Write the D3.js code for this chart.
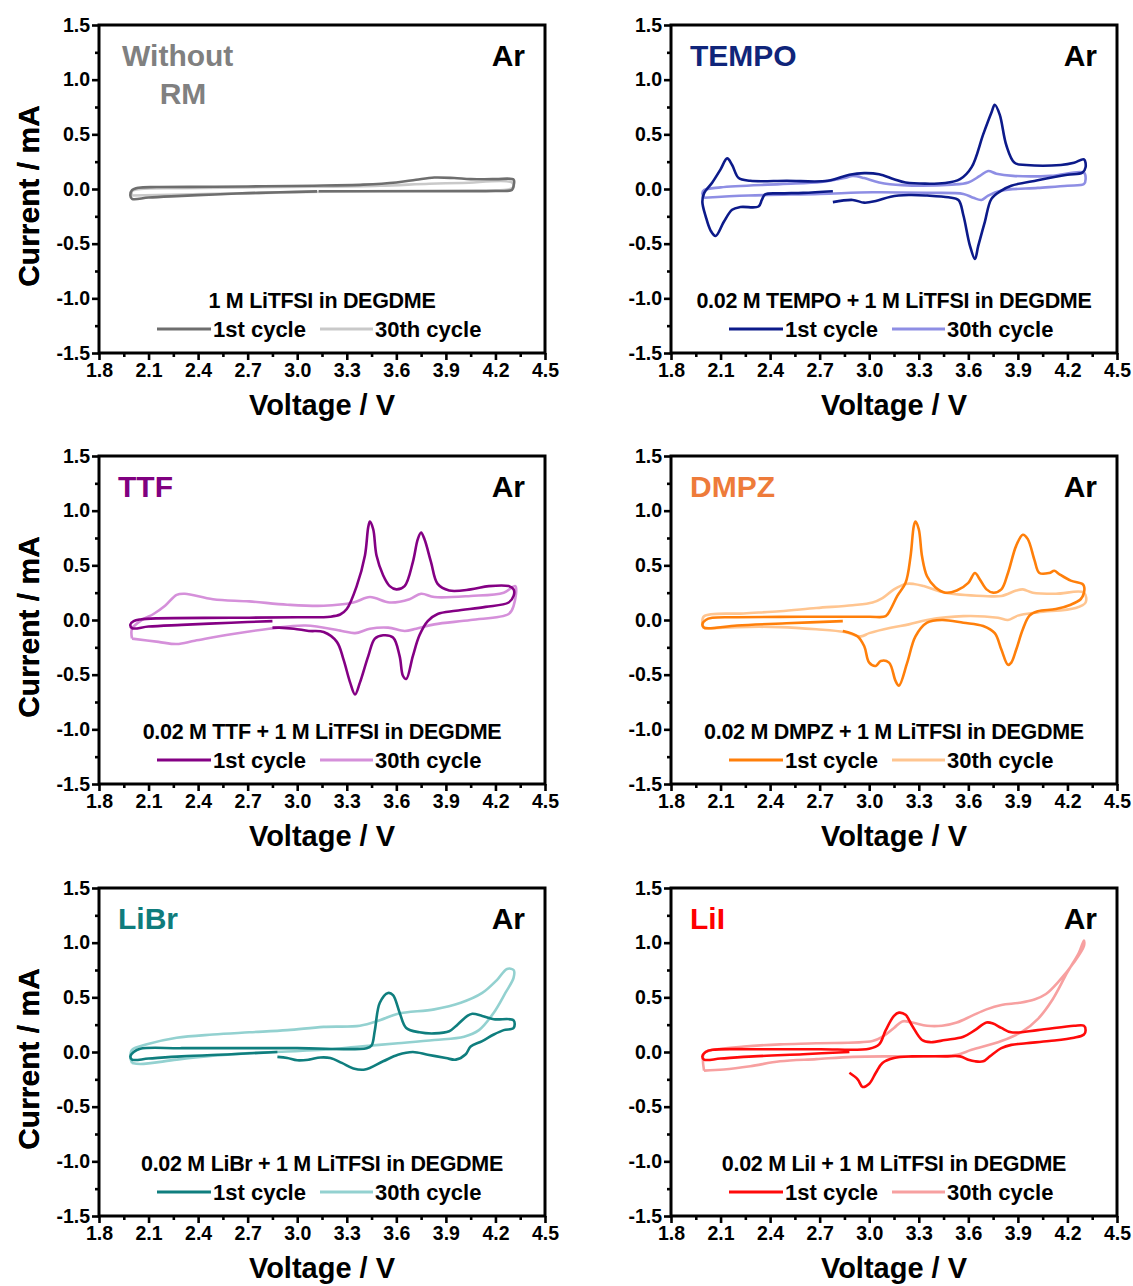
<!DOCTYPE html>
<html>
<head>
<meta charset="utf-8">
<script src="https://cdn.jsdelivr.net/npm/d3@7"></script>
<style>
  html, body { margin: 0; padding: 0; background: #ffffff; }
  svg { display: block; font-family: Arial, "Liberation Sans", sans-serif; }
</style>
</head>
<body>
<svg id="chart" width="1133" height="1286"></svg>
<script>
// ---------- tick labels ----------
const xTicks = [1.8, 2.1, 2.4, 2.7, 3.0, 3.3, 3.6, 3.9, 4.2, 4.5];
const yTicks = [-1.5, -1.0, -0.5, 0.0, 0.5, 1.0, 1.5];
const xMinorTicks = [1.95, 2.25, 2.55, 2.85, 3.15, 3.45, 3.75, 4.05, 4.35];
const yMinorTicks = [-1.25, -0.75, -0.25, 0.25, 0.75, 1.25];
const legendLabels = ["1st cycle", "30th cycle"];

// ---------- panel texts ----------
const panelNames = ["Without RM", "TEMPO", "TTF", "DMPZ", "LiBr", "LiI"];
const panelNotes = [
  "1 M LiTFSI in DEGDME",
  "0.02 M TEMPO + 1 M LiTFSI in DEGDME",
  "0.02 M TTF + 1 M LiTFSI in DEGDME",
  "0.02 M DMPZ + 1 M LiTFSI in DEGDME",
  "0.02 M LiBr + 1 M LiTFSI in DEGDME",
  "0.02 M LiI + 1 M LiTFSI in DEGDME"
];

// ---------- series: [voltage V, current mA] in scan order ----------
const withoutRM_1st = [[3.12,-0.022],[2.9,-0.03],[2.7,-0.038],[2.5,-0.05],[2.27,-0.065],[2.1,-0.078],[2.0,-0.09],[1.99,-0.06],[2.0,-0.01],[2.04,0.012],[2.15,0.018],[2.5,0.02],[2.8,0.025],[3.1,0.03],[3.4,0.04],[3.6,0.06],[3.72,0.085],[3.83,0.105],[3.95,0.1],[4.05,0.09],[4.2,0.09],[4.31,0.085],[4.31,0.03],[4.3,-0.008],[4.2,-0.018],[3.9,-0.02],[3.5,-0.02],[3.13,-0.02]];
const withoutRM_30th = [[2.0,-0.06],[2.0,-0.02],[2.05,0.0],[2.3,0.008],[2.7,0.015],[3.1,0.02],[3.5,0.03],[3.8,0.048],[4.0,0.055],[4.3,0.06],[4.31,0.02],[4.28,-0.005],[4.1,-0.012],[3.5,-0.018],[3.0,-0.03],[2.5,-0.045],[2.0,-0.06]];

const tempo_1st = [[2.78,-0.02],[2.6,-0.035],[2.46,-0.04],[2.37,-0.05],[2.35,-0.1],[2.33,-0.16],[2.22,-0.165],[2.17,-0.19],[2.12,-0.3],[2.07,-0.43],[2.04,-0.38],[2.01,-0.25],[1.99,-0.12],[2.0,-0.04],[2.05,0.06],[2.1,0.18],[2.14,0.28],[2.17,0.22],[2.21,0.1],[2.28,0.075],[2.5,0.075],[2.75,0.075],[2.88,0.13],[2.97,0.145],[3.06,0.135],[3.15,0.09],[3.22,0.06],[3.46,0.055],[3.55,0.09],[3.62,0.2],[3.69,0.5],[3.74,0.7],[3.76,0.77],[3.79,0.68],[3.83,0.4],[3.88,0.24],[3.95,0.22],[4.16,0.22],[4.24,0.24],[4.3,0.27],[4.31,0.2],[4.29,0.15],[4.2,0.13],[4.02,0.08],[3.86,0.03],[3.8,-0.015],[3.74,-0.09],[3.7,-0.3],[3.66,-0.52],[3.64,-0.64],[3.61,-0.52],[3.57,-0.24],[3.54,-0.1],[3.48,-0.076],[3.35,-0.06],[3.24,-0.055],[3.13,-0.07],[3.04,-0.11],[2.97,-0.125],[2.9,-0.1],[2.78,-0.12]];
const tempo_30th = [[2.0,-0.08],[1.99,-0.04],[2.0,-0.01],[2.1,0.015],[2.46,0.045],[2.71,0.065],[2.85,0.1],[2.9,0.12],[2.97,0.1],[3.06,0.06],[3.2,0.035],[3.5,0.04],[3.6,0.06],[3.67,0.12],[3.72,0.165],[3.77,0.14],[3.87,0.12],[4.1,0.12],[4.3,0.15],[4.31,0.09],[4.3,0.045],[4.2,0.03],[4.02,0.01],[3.8,-0.015],[3.72,-0.06],[3.68,-0.1],[3.63,-0.08],[3.57,-0.045],[3.35,-0.035],[3.02,-0.03],[2.7,-0.045],[2.27,-0.06],[2.0,-0.08]];

const ttf_1st = [[2.85,-0.01],[2.6,-0.025],[2.3,-0.045],[2.1,-0.06],[2.0,-0.075],[1.99,-0.04],[2.01,-0.01],[2.05,0.005],[2.15,0.015],[2.6,0.02],[3.0,0.025],[3.2,0.03],[3.26,0.05],[3.3,0.1],[3.36,0.31],[3.41,0.59],[3.43,0.85],[3.44,0.9],[3.46,0.83],[3.48,0.59],[3.52,0.41],[3.56,0.31],[3.6,0.28],[3.65,0.31],[3.7,0.53],[3.73,0.74],[3.75,0.8],[3.77,0.74],[3.81,0.53],[3.85,0.33],[3.92,0.27],[4.05,0.28],[4.16,0.31],[4.28,0.31],[4.31,0.28],[4.31,0.22],[4.28,0.16],[4.14,0.12],[3.96,0.085],[3.85,0.055],[3.79,-0.01],[3.74,-0.14],[3.7,-0.33],[3.66,-0.54],[3.64,-0.51],[3.62,-0.33],[3.58,-0.16],[3.52,-0.14],[3.47,-0.17],[3.43,-0.33],[3.38,-0.57],[3.35,-0.68],[3.32,-0.57],[3.28,-0.36],[3.24,-0.2],[3.16,-0.11],[3.07,-0.1],[2.98,-0.08],[2.89,-0.07],[2.85,-0.07]];
const ttf_30th = [[2.0,-0.17],[2.16,-0.2],[2.27,-0.22],[2.38,-0.19],[2.6,-0.13],[2.83,-0.08],[3.05,-0.05],[3.27,-0.1],[3.35,-0.12],[3.44,-0.08],[3.55,-0.07],[3.65,-0.1],[3.72,-0.08],[3.83,-0.04],[4.05,0.0],[4.28,0.055],[4.31,0.13],[4.32,0.31],[4.25,0.25],[4.05,0.22],[3.83,0.21],[3.75,0.24],[3.68,0.19],[3.56,0.16],[3.44,0.21],[3.34,0.16],[3.16,0.13],[2.94,0.14],[2.71,0.17],[2.49,0.19],[2.32,0.24],[2.27,0.23],[2.2,0.13],[2.13,0.055],[2.06,0.0],[2.0,-0.08],[2.0,-0.17]];

const dmpz_1st = [[2.84,-0.01],[2.5,-0.03],[2.2,-0.05],[2.0,-0.07],[1.99,-0.04],[2.01,0.0],[2.05,0.02],[2.2,0.025],[2.6,0.03],[3.0,0.03],[3.1,0.035],[3.13,0.1],[3.17,0.22],[3.22,0.34],[3.25,0.58],[3.27,0.86],[3.28,0.9],[3.3,0.83],[3.32,0.58],[3.35,0.4],[3.4,0.3],[3.46,0.25],[3.53,0.27],[3.6,0.34],[3.64,0.43],[3.67,0.37],[3.71,0.28],[3.75,0.25],[3.8,0.28],[3.84,0.43],[3.89,0.68],[3.93,0.78],[3.96,0.74],[4.0,0.55],[4.03,0.43],[4.09,0.43],[4.12,0.45],[4.15,0.42],[4.22,0.36],[4.29,0.33],[4.3,0.31],[4.3,0.25],[4.28,0.19],[4.22,0.14],[4.13,0.1],[4.02,0.08],[3.97,0.04],[3.93,-0.085],[3.89,-0.27],[3.86,-0.39],[3.84,-0.41],[3.8,-0.27],[3.76,-0.12],[3.69,-0.055],[3.57,-0.025],[3.44,0.0],[3.35,-0.025],[3.28,-0.15],[3.23,-0.39],[3.18,-0.6],[3.16,-0.56],[3.12,-0.39],[3.07,-0.375],[3.04,-0.42],[3.0,-0.39],[2.97,-0.24],[2.93,-0.15],[2.84,-0.1]];
const dmpz_30th = [[2.0,-0.08],[1.99,-0.03],[2.0,0.035],[2.24,0.06],[2.46,0.08],[2.68,0.11],[2.9,0.135],[3.02,0.16],[3.08,0.2],[3.15,0.28],[3.22,0.33],[3.27,0.33],[3.33,0.31],[3.46,0.25],[3.69,0.22],[3.8,0.22],[3.89,0.27],[3.93,0.28],[3.99,0.25],[4.13,0.24],[4.3,0.25],[4.31,0.16],[4.25,0.11],[4.02,0.07],[3.9,0.04],[3.84,0.0],[3.78,0.02],[3.57,0.035],[3.35,0.0],[3.24,-0.04],[3.13,-0.07],[3.0,-0.12],[2.95,-0.15],[2.85,-0.11],[2.68,-0.085],[2.46,-0.065],[2.2,-0.065],[2.0,-0.08]];

const libr_1st = [[2.88,0.0],[2.6,-0.02],[2.3,-0.04],[2.1,-0.06],[2.0,-0.07],[1.99,-0.04],[2.01,0.0],[2.05,0.03],[2.3,0.035],[3.0,0.035],[3.42,0.035],[3.45,0.06],[3.47,0.2],[3.5,0.45],[3.55,0.54],[3.58,0.52],[3.62,0.36],[3.66,0.22],[3.74,0.18],[3.83,0.17],[3.92,0.19],[3.97,0.25],[4.03,0.33],[4.06,0.35],[4.12,0.33],[4.19,0.3],[4.31,0.29],[4.31,0.22],[4.25,0.2],[4.19,0.16],[4.12,0.1],[4.05,0.05],[4.02,-0.02],[3.96,-0.07],[3.9,-0.055],[3.79,-0.025],[3.7,0.0],[3.61,-0.025],[3.52,-0.085],[3.41,-0.16],[3.34,-0.15],[3.27,-0.1],[3.2,-0.055],[3.14,-0.05],[3.07,-0.07],[3.0,-0.076],[2.94,-0.055],[2.88,-0.045]];
const libr_30th = [[2.0,-0.1],[1.99,-0.05],[2.0,0.02],[2.09,0.07],[2.27,0.13],[2.49,0.16],[2.71,0.18],[2.94,0.2],[3.16,0.23],[3.38,0.24],[3.5,0.29],[3.61,0.35],[3.83,0.39],[3.99,0.45],[4.12,0.54],[4.21,0.66],[4.27,0.76],[4.31,0.75],[4.31,0.68],[4.26,0.54],[4.19,0.36],[4.1,0.2],[4.01,0.14],[3.83,0.11],[3.61,0.08],[3.38,0.05],[3.16,0.02],[2.94,0.005],[2.71,-0.01],[2.49,-0.035],[2.27,-0.07],[2.05,-0.11],[2.0,-0.1]];

const lii_1st = [[2.88,0.0],[2.6,-0.02],[2.3,-0.04],[2.1,-0.06],[2.0,-0.07],[1.99,-0.04],[2.01,0.0],[2.05,0.02],[2.3,0.025],[2.7,0.025],[3.0,0.03],[3.06,0.07],[3.1,0.2],[3.15,0.33],[3.18,0.36],[3.22,0.34],[3.26,0.24],[3.32,0.11],[3.37,0.09],[3.46,0.11],[3.57,0.14],[3.64,0.2],[3.71,0.27],[3.75,0.26],[3.8,0.22],[3.86,0.18],[4.02,0.2],[4.24,0.24],[4.3,0.24],[4.31,0.2],[4.3,0.16],[4.24,0.13],[4.09,0.1],[3.95,0.08],[3.86,0.065],[3.8,0.035],[3.73,-0.04],[3.69,-0.085],[3.64,-0.085],[3.6,-0.07],[3.55,-0.04],[3.46,-0.04],[3.26,-0.04],[3.15,-0.055],[3.08,-0.1],[3.04,-0.19],[3.0,-0.29],[2.96,-0.32],[2.93,-0.25],[2.88,-0.19]];
const lii_30th = [[2.0,-0.17],[2.12,-0.16],[2.28,-0.13],[2.46,-0.085],[2.68,-0.065],[2.9,-0.045],[3.13,-0.04],[3.35,-0.04],[3.53,-0.025],[3.62,0.02],[3.8,0.1],[3.93,0.19],[4.02,0.3],[4.11,0.48],[4.2,0.73],[4.27,0.91],[4.3,1.02],[4.3,0.97],[4.24,0.82],[4.15,0.65],[4.07,0.53],[4.0,0.48],[3.91,0.45],[3.8,0.43],[3.71,0.39],[3.62,0.33],[3.53,0.27],[3.44,0.24],[3.35,0.24],[3.26,0.27],[3.2,0.28],[3.15,0.22],[3.08,0.14],[3.02,0.1],[2.68,0.08],[2.46,0.07],[2.24,0.05],[2.06,0.02],[2.0,-0.01],[2.0,-0.17]];

const firstCycles = [withoutRM_1st, tempo_1st, ttf_1st, dmpz_1st, libr_1st, lii_1st];
const lastCycles  = [withoutRM_30th, tempo_30th, ttf_30th, dmpz_30th, libr_30th, lii_30th];

// ---------- styles ----------
const labelColors = ["#808080", "#10257a", "#800080", "#ee7b3a", "#0f7c7c", "#ff0000"];
const firstColors = ["#6e6e6e", "#0c1a8a", "#840084", "#ff7f0a", "#0f7e7e", "#ff0a0a"];
const lastColors  = ["#c9c9c9", "#8e8ee4", "#d590da", "#ffc590", "#93d1d0", "#f7a0a0"];

const svg = d3.select("#chart");
const colX = [99, 671];
const rowY = [25, 456, 888];
const W = 446, H = 328;
const fmt = d => d3.format(".1f")(d).replace("\u2212", "-");

panelNames.forEach((name, i) => {
  const x0 = colX[i % 2], y0 = rowY[Math.floor(i / 2)];
  const g = svg.append("g").attr("transform", `translate(${x0},${y0})`);
  const x = d3.scaleLinear().domain([1.8, 4.5]).range([0, W]);
  const y = d3.scaleLinear().domain([-1.5, 1.5]).range([H, 0]);

  // minor ticks
  g.append("g").attr("class", "minor").attr("transform", `translate(0,${H})`)
    .call(d3.axisBottom(x).tickValues(xMinorTicks).tickSize(4).tickFormat(""));
  g.append("g").attr("class", "minor")
    .call(d3.axisLeft(y).tickValues(yMinorTicks).tickSize(4).tickFormat(""));
  // major ticks
  g.append("g").attr("class", "major").attr("transform", `translate(0,${H})`)
    .call(d3.axisBottom(x).tickValues(xTicks).tickSize(7).tickPadding(3).tickFormat(fmt));
  g.append("g").attr("class", "major")
    .call(d3.axisLeft(y).tickValues(yTicks).tickSize(7).tickPadding(2).tickFormat(fmt));

  g.selectAll(".domain").remove();
  g.selectAll(".tick line").attr("stroke", "#000").attr("stroke-width", 2.6);
  g.selectAll(".tick text").attr("fill", "#000").style("font-size", "19.5px")
    .style("font-weight", "bold").style("font-family", "Arial, 'Liberation Sans', sans-serif");

  // curves
  const line = d3.line().x(d => x(d[0])).y(d => y(d[1])).curve(d3.curveCatmullRom.alpha(0.5));
  g.append("path").datum(lastCycles[i]).attr("d", line)
    .attr("fill", "none").attr("stroke", lastColors[i]).attr("stroke-width", 2.6)
    .attr("stroke-linejoin", "round");
  g.append("path").datum(firstCycles[i]).attr("d", line)
    .attr("fill", "none").attr("stroke", firstColors[i]).attr("stroke-width", 2.6)
    .attr("stroke-linejoin", "round");

  // frame
  g.append("rect").attr("x", 0).attr("y", 0).attr("width", W).attr("height", H)
    .attr("fill", "none").attr("stroke", "#000").attr("stroke-width", 3);

  // panel label
  if (i === 0) {
    g.append("text").attr("x", 23).attr("y", 41).text("Without")
      .attr("fill", labelColors[i]).style("font-size", "30px").style("font-weight", "bold");
    g.append("text").attr("x", 84).attr("y", 79).attr("text-anchor", "middle").text("RM")
      .attr("fill", labelColors[i]).style("font-size", "30px").style("font-weight", "bold");
  } else {
    g.append("text").attr("x", 19).attr("y", 41).text(name)
      .attr("fill", labelColors[i]).style("font-size", "30px").style("font-weight", "bold");
  }
  g.append("text").attr("x", W - 20).attr("y", 41).attr("text-anchor", "end").text("Ar")
    .attr("fill", "#000").style("font-size", "30px").style("font-weight", "bold");

  // annotation
  g.append("text").attr("x", W / 2).attr("y", 283).attr("text-anchor", "middle").text(panelNotes[i])
    .attr("fill", "#000").style("font-size", "21.5px").style("font-weight", "bold")
    .style("letter-spacing", "-0.3px");

  // legend
  const ly = 304;
  g.append("line").attr("x1", 58).attr("x2", 112).attr("y1", ly).attr("y2", ly)
    .attr("stroke", firstColors[i]).attr("stroke-width", 3);
  g.append("text").attr("x", 114).attr("y", 312).text(legendLabels[0])
    .attr("fill", "#000").style("font-size", "22px").style("font-weight", "bold");
  g.append("line").attr("x1", 221).attr("x2", 274).attr("y1", ly).attr("y2", ly)
    .attr("stroke", lastColors[i]).attr("stroke-width", 3);
  g.append("text").attr("x", 276).attr("y", 312).text(legendLabels[1])
    .attr("fill", "#000").style("font-size", "22px").style("font-weight", "bold");

  // axis titles
  g.append("text").attr("x", W / 2).attr("y", H + 62).attr("text-anchor", "middle")
    .text("Voltage / V").attr("fill", "#000").style("font-size", "29px").style("font-weight", "bold");
  g.append("text").attr("transform", `translate(${-x0 + 39},${H / 2 + 7}) rotate(-90)`)
    .attr("text-anchor", "middle").text("Current / mA")
    .attr("fill", "#000").style("font-size", "30px").style("font-weight", "bold");
});
</script>
</body>
</html>
